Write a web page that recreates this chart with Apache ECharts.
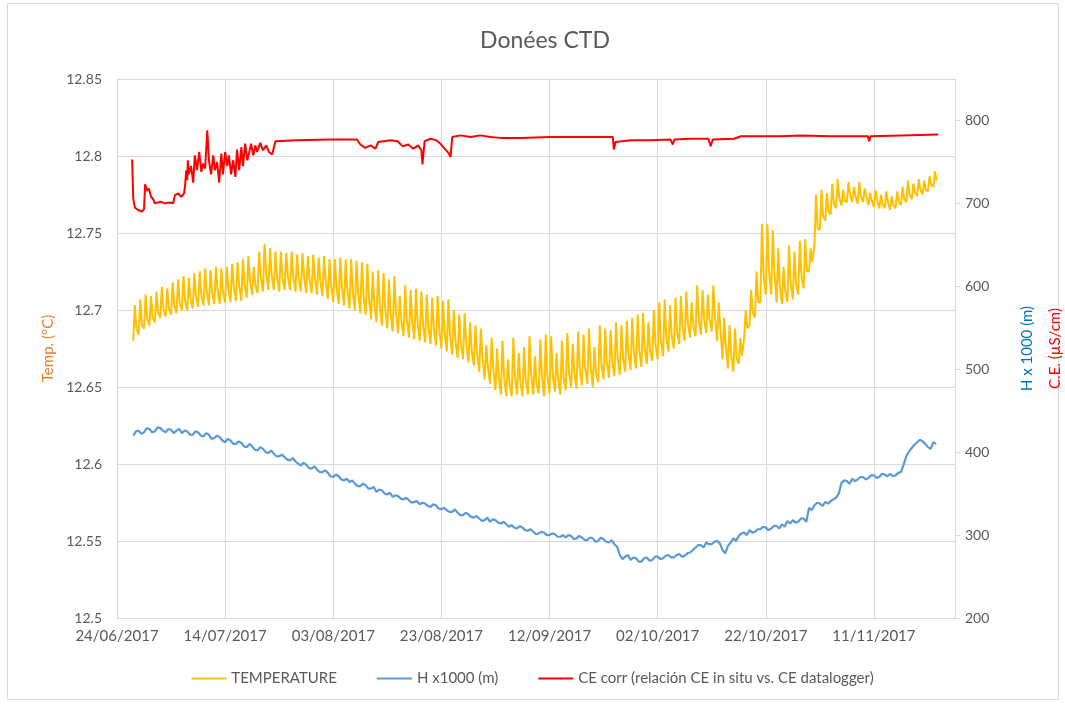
<!DOCTYPE html>
<html>
<head>
<meta charset="utf-8">
<script src="https://cdn.jsdelivr.net/npm/echarts@6/dist/echarts.min.js"></script>
<style>
  html, body { margin: 0; padding: 0; background: #fff; }
  #chart { width: 1065px; height: 704px; }
</style>
</head>
<body>
<div id="chart"></div>
<script>
// x values are days counted from 24/06/2017
const xTickLabels = ['24/06/2017', '14/07/2017', '03/08/2017', '23/08/2017', '12/09/2017', '02/10/2017', '22/10/2017', '11/11/2017'];
const firstDay = 3; // 27/06/2017, first daily reading

// temperature (°C): daily low, daily peak, and level after the peak
const tempLow = [
  12.680, 12.684, 12.688, 12.690, 12.692, 12.695, 12.696, 12.697, 12.698, 12.700,
  12.700, 12.701, 12.702, 12.703, 12.703, 12.704, 12.704, 12.705, 12.705, 12.706,
  12.706, 12.708, 12.710, 12.711, 12.712, 12.713, 12.713, 12.712, 12.713, 12.713,
  12.712, 12.712, 12.711, 12.711, 12.710, 12.709, 12.707, 12.705, 12.704, 12.703,
  12.701, 12.700, 12.698, 12.697, 12.694, 12.692, 12.690, 12.688, 12.686, 12.685,
  12.683, 12.682, 12.681, 12.680, 12.679, 12.678, 12.677, 12.675, 12.673, 12.671,
  12.669, 12.668, 12.666, 12.664, 12.660, 12.655, 12.652, 12.648, 12.645, 12.644,
  12.644, 12.645, 12.644, 12.645, 12.645, 12.646, 12.644, 12.646, 12.647, 12.645,
  12.648, 12.650, 12.649, 12.651, 12.652, 12.650, 12.653, 12.655, 12.656, 12.657,
  12.658, 12.660, 12.661, 12.662, 12.663, 12.665, 12.667, 12.668, 12.670, 12.673,
  12.675, 12.678, 12.680, 12.682, 12.683, 12.684, 12.685, 12.686, 12.680, 12.668,
  12.662, 12.660, 12.665, 12.682, 12.690, 12.695, 12.705, 12.710, 12.710, 12.705,
  12.704, 12.705, 12.707, 12.710, 12.714, 12.725, 12.742, 12.752, 12.758, 12.762,
  12.766, 12.768, 12.770, 12.770, 12.769, 12.770, 12.768, 12.767, 12.766, 12.766,
  12.765, 12.766, 12.768, 12.770, 12.772, 12.774, 12.775, 12.777, 12.780
];
const tempHigh = [
  12.703, 12.707, 12.710, 12.709, 12.712, 12.715, 12.714, 12.718, 12.720, 12.722,
  12.721, 12.724, 12.725, 12.727, 12.726, 12.728, 12.727, 12.728, 12.730, 12.731,
  12.733, 12.735, 12.728, 12.738, 12.743, 12.740, 12.738, 12.738, 12.737, 12.738,
  12.736, 12.737, 12.735, 12.736, 12.734, 12.735, 12.733, 12.733, 12.734, 12.733,
  12.733, 12.732, 12.731, 12.730, 12.725, 12.726, 12.724, 12.720, 12.722, 12.709,
  12.716, 12.713, 12.714, 12.712, 12.710, 12.708, 12.709, 12.706, 12.707, 12.700,
  12.697, 12.698, 12.692, 12.690, 12.688, 12.677, 12.682, 12.675, 12.680, 12.668,
  12.682, 12.672, 12.676, 12.683, 12.670, 12.681, 12.684, 12.683, 12.672, 12.680,
  12.685, 12.678, 12.686, 12.684, 12.688, 12.676, 12.690, 12.688, 12.687, 12.692,
  12.690, 12.693, 12.695, 12.697, 12.698, 12.692, 12.700, 12.705, 12.707, 12.703,
  12.708, 12.709, 12.712, 12.705, 12.716, 12.713, 12.710, 12.716, 12.705, 12.695,
  12.690, 12.688, 12.682, 12.700, 12.713, 12.725, 12.756, 12.756, 12.752, 12.740,
  12.728, 12.742, 12.738, 12.745, 12.746, 12.740, 12.775, 12.778, 12.776, 12.782,
  12.785, 12.778, 12.783, 12.780, 12.783, 12.779, 12.776, 12.778, 12.775, 12.777,
  12.774, 12.777, 12.780, 12.784, 12.782, 12.785, 12.784, 12.787, 12.790
];
const tempAfter = [
  12.688, 12.690, 12.694, 12.695, 12.698, 12.700, 12.701, 12.703, 12.704, 12.706,
  12.707, 12.709, 12.710, 12.712, 12.711, 12.713, 12.712, 12.714, 12.715, 12.716,
  12.716, 12.719, 12.716, 12.721, 12.724, 12.723, 12.722, 12.721, 12.722, 12.722,
  12.721, 12.722, 12.720, 12.721, 12.719, 12.719, 12.717, 12.715, 12.715, 12.713,
  12.712, 12.711, 12.709, 12.708, 12.704, 12.703, 12.701, 12.698, 12.698, 12.693,
  12.694, 12.693, 12.692, 12.691, 12.689, 12.688, 12.688, 12.685, 12.684, 12.680,
  12.678, 12.678, 12.674, 12.672, 12.669, 12.663, 12.662, 12.657, 12.657, 12.652,
  12.657, 12.653, 12.655, 12.658, 12.652, 12.657, 12.657, 12.658, 12.655, 12.656,
  12.660, 12.659, 12.661, 12.662, 12.664, 12.659, 12.665, 12.666, 12.667, 12.669,
  12.669, 12.671, 12.673, 12.674, 12.675, 12.673, 12.678, 12.680, 12.682, 12.683,
  12.686, 12.689, 12.691, 12.690, 12.694, 12.694, 12.694, 12.696, 12.688, 12.677,
  12.671, 12.669, 12.670, 12.688, 12.698, 12.705, 12.722, 12.725, 12.724, 12.716,
  12.712, 12.717, 12.717, 12.722, 12.725, 12.731, 12.753, 12.761, 12.764, 12.769,
  12.773, 12.771, 12.775, 12.774, 12.774, 12.774, 12.771, 12.771, 12.769, 12.770,
  12.768, 12.770, 12.772, 12.775, 12.776, 12.778, 12.778, 12.781, 12.784
];

// water level H x1000 (m): morning and evening readings
const hMorning = [
  420, 426, 424, 428, 425, 429, 424, 427, 426, 423,
  425, 421, 424, 419, 421, 417, 418, 412, 414, 410,
  411, 406, 407, 402, 404, 399, 398, 395, 394, 390,
  389, 384, 385, 380, 379, 376, 375, 370, 371, 366,
  364, 362, 359, 360, 356, 352, 354, 349, 346, 347,
  343, 342, 340, 337, 338, 334, 336, 331, 330, 328,
  327, 324, 325, 321, 320, 318, 316, 318, 314, 313,
  312, 308, 309, 305, 304, 302, 303, 300, 301, 298,
  297, 299, 296, 297, 294, 296, 293, 295, 291, 289,
  276, 274, 270, 272, 268, 273, 270, 274, 272, 276,
  273, 277, 275, 279, 285, 288, 291, 289, 293, 282,
  287, 296, 299, 303, 306, 304, 307, 309, 308, 311,
  313, 317, 318, 316, 320, 333, 336, 338, 340, 341,
  345, 363, 365, 368, 367, 370, 369, 372, 370, 373,
  374, 372, 376, 395, 405, 412, 413, 406, 412
];
const hEvening = [
  425, 422, 429, 424, 430, 426, 428, 423, 428, 426,
  421, 425, 420, 423, 416, 420, 414, 416, 410, 413,
  407, 410, 403, 406, 400, 402, 395, 397, 391, 393,
  386, 387, 381, 383, 376, 378, 371, 373, 367, 368,
  366, 359, 362, 356, 358, 355, 350, 351, 348, 344,
  345, 339, 341, 339, 335, 337, 332, 333, 328, 331,
  324, 327, 322, 323, 317, 321, 319, 315, 316, 310,
  309, 311, 306, 307, 301, 304, 300, 302, 298, 300,
  300, 295, 299, 294, 297, 292, 297, 292, 294, 286,
  271, 276, 273, 268, 272, 269, 274, 271, 275, 273,
  276, 274, 278, 282, 288, 285, 289, 292, 290, 278,
  291, 293, 302, 300, 303, 307, 310, 306, 311, 308,
  310, 314, 315, 320, 316, 330, 339, 335, 338, 343,
  350, 366, 362, 365, 370, 367, 372, 369, 374, 371,
  371, 375, 385, 401, 409, 415, 410, 404, 410
];

// conductivity CE corr (µS/cm), irregular readings
const ceDays = [
  2.8, 3.0, 3.3, 3.9, 4.6, 5.0, 5.2, 5.6, 5.9, 6.3, 6.7, 7.0, 8.0, 8.9, 9.8, 10.4, 10.7, 11.3, 11.9, 12.4,
  12.6, 12.8, 13.0, 13.1, 13.3, 13.7, 14.1, 14.4, 14.8, 15.2, 15.6, 15.9, 16.3, 16.7, 17.0, 17.4, 17.8, 18.1, 18.5, 18.9,
  19.3, 19.6, 20.0, 20.4, 20.7, 21.1, 21.5, 21.9, 22.2, 22.6, 23.0, 23.3, 23.7, 24.1, 24.4, 24.8, 25.2, 25.6, 25.9, 26.5,
  27.0, 27.6, 28.1, 28.7, 29.3, 33.3, 39.4, 44.4, 45.0, 45.9, 46.9, 47.8, 48.3, 50.6, 51.9, 52.8, 53.9, 54.8, 55.7, 56.3,
  56.5, 56.9, 58.0, 59.1, 59.8, 60.6, 61.3, 61.7, 62.0, 63.5, 65.4, 67.2, 69.1, 70.9, 74.6, 80.2, 85.7, 91.7, 91.9, 92.2,
  95.0, 98.7, 102.4, 102.8, 103.1, 106.1, 109.4, 109.8, 110.2, 114.1, 115.4, 122.8, 126.5, 132.0, 138.9, 139.1, 139.4, 145.0, 151.9
];
const ceValues = [
  753, 706, 695, 692, 690, 693, 723, 715, 718, 708, 705, 700, 702, 700, 701, 700, 710, 712, 708, 712,
  722, 740, 728, 752, 735, 745, 725, 758, 740, 762, 738, 748, 742, 788, 752, 735, 758, 740, 750, 725,
  760, 735, 762, 745, 758, 735, 752, 732, 765, 740, 768, 745, 772, 752, 760, 772, 758, 770, 762, 773,
  764, 770, 762, 759, 775, 776, 777, 777, 771, 767, 770, 766, 774, 776, 775, 769, 771, 766, 770, 764,
  747, 775, 778, 776, 772, 766, 761, 756, 780, 782, 780, 782, 780, 779, 779, 780, 780, 780, 765, 774,
  776, 776, 777, 771, 777, 778, 778, 769, 777, 778, 781, 781, 782, 781, 781, 775, 781, 782, 783
];

const tempData = [];
tempLow.forEach((low, i) => {
  tempData.push([firstDay + i, low]);
  tempData.push([firstDay + i + 0.3, tempHigh[i]]);
  tempData.push([firstDay + i + 0.6, tempAfter[i]]);
});
const hData = [];
hMorning.forEach((v, i) => {
  hData.push([firstDay + i, v]);
  hData.push([firstDay + i + 0.5, hEvening[i]]);
});
const ceData = ceDays.map((d, i) => [d, ceValues[i]]);

const FONT = 'Lato';
const TEXT = '#595959';
const GRID = '#d9d9d9';

const chart = echarts.init(document.getElementById('chart'), null, { renderer: 'canvas' });

chart.setOption({
  animation: false,
  backgroundColor: '#fff',
  textStyle: { fontFamily: FONT },
  title: {
    text: 'Donées CTD',
    left: 540,
    textAlign: 'center',
    top: 24,
    textStyle: { color: TEXT, fontSize: 23, fontWeight: 'normal', fontFamily: FONT }
  },
  legend: {
    bottom: 13,
    left: 'center',
    icon: 'rect',
    itemWidth: 35,
    itemHeight: 2,
    itemGap: 40,
    textStyle: { color: TEXT, fontSize: 15, fontFamily: FONT },
    data: ['TEMPERATURE', 'H x1000 (m)', 'CE corr (relación CE in situ vs. CE datalogger)']
  },
  graphic: [{
    type: 'rect',
    shape: { x: 7.5, y: 3.5, width: 1051, height: 696 },
    style: { fill: 'none', stroke: GRID, lineWidth: 1 },
    silent: true
  }],
  grid: { left: 117, right: 110, top: 79, bottom: 86, outerBoundsMode: 'none' },
  xAxis: {
    type: 'value',
    min: 0,
    max: 155,
    interval: 20,
    axisLine: { show: true, lineStyle: { color: GRID } },
    axisTick: { show: false },
    splitLine: { show: true, lineStyle: { color: GRID } },
    axisLabel: {
      color: TEXT,
      fontSize: 15,
      margin: 11,
      showMaxLabel: false,
      formatter: v => xTickLabels[Math.round(v / 20)] || ''
    }
  },
  yAxis: [
    {
      type: 'value',
      min: 12.5,
      max: 12.85,
      interval: 0.05,
      name: 'Temp. (°C)',
      nameLocation: 'middle',
      nameRotate: 90,
      nameGap: 60,
      nameTextStyle: { color: '#ed7d31', fontSize: 15 },
      axisLine: { show: true, lineStyle: { color: GRID } },
      axisTick: { show: false },
      splitLine: { show: true, lineStyle: { color: GRID } },
      axisLabel: { color: TEXT, fontSize: 14, margin: 15, formatter: v => String(+v.toFixed(2)) }
    },
    {
      type: 'value',
      min: 200,
      max: 850,
      interval: 100,
      position: 'right',
      name: '{h|H x 1000 (m)}\n{c|C.E. (µS/cm)}',
      nameLocation: 'middle',
      nameRotate: 90,
      nameGap: 58,
      nameTextStyle: {
        fontSize: 15,
        lineHeight: 28,
        rich: {
          h: { color: '#0070c0', fontSize: 15, lineHeight: 28 },
          c: { color: '#ff0000', fontSize: 15, lineHeight: 28 }
        }
      },
      axisLine: { show: true, lineStyle: { color: GRID } },
      axisTick: { show: true, length: 5, lineStyle: { color: GRID } },
      splitLine: { show: false },
      axisLabel: { color: TEXT, fontSize: 14, margin: 10, showMaxLabel: false }
    }
  ],
  series: [
    {
      name: 'TEMPERATURE',
      type: 'line',
      yAxisIndex: 0,
      data: tempData,
      symbol: 'none',
      lineStyle: { color: '#ffc000', width: 2 },
      itemStyle: { color: '#ffc000' },
      z: 3
    },
    {
      name: 'H x1000 (m)',
      type: 'line',
      yAxisIndex: 1,
      data: hData,
      symbol: 'none',
      lineStyle: { color: '#5b9bd5', width: 2.2 },
      itemStyle: { color: '#5b9bd5' },
      z: 4
    },
    {
      name: 'CE corr (relación CE in situ vs. CE datalogger)',
      type: 'line',
      yAxisIndex: 1,
      data: ceData,
      symbol: 'none',
      lineStyle: { color: '#ff0000', width: 2 },
      itemStyle: { color: '#ff0000' },
      z: 5
    }
  ]
});
</script>
</body>
</html>
